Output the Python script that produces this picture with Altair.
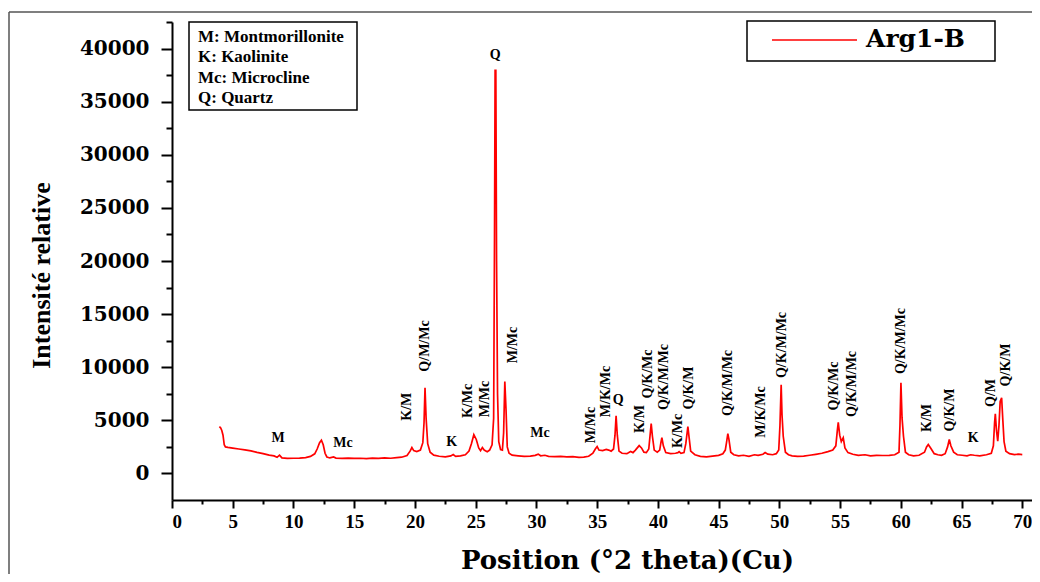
import altair as alt
import pandas as pd

# ---- XRD pattern ----
two_theta = [
    3.9, 4.0, 4.1, 4.2, 4.3, 4.4, 4.6, 5.0, 5.5, 6.0,
    6.5, 7.0, 7.5, 8.0, 8.4, 8.65, 8.85, 9.05, 9.5, 10.0,
    10.5, 11.0, 11.4, 11.75, 11.95, 12.15, 12.3, 12.45, 12.6, 12.75,
    13.0, 13.3, 13.5, 14.0, 14.5, 15.0, 15.5, 16.0, 16.5, 17.0,
    17.5, 18.0, 18.5, 18.9, 19.35, 19.6, 19.75, 19.9, 20.15, 20.45,
    20.65, 20.75, 20.83, 20.92, 21.05, 21.25, 21.55, 22.0, 22.5, 22.95,
    23.15, 23.35, 23.75, 24.15, 24.45, 24.65, 24.85, 25.05, 25.25, 25.4,
    25.55, 25.7, 25.95, 26.15, 26.35, 26.48, 26.55, 26.6, 26.66, 26.72,
    26.8, 26.9, 27.05, 27.2, 27.3, 27.4, 27.5, 27.6, 27.75, 28.0,
    28.5, 29.0, 29.5, 29.9, 30.15, 30.35, 30.7, 31.0, 31.5, 32.0,
    32.5, 33.0, 33.5, 33.9, 34.3, 34.65, 34.85, 35.0, 35.15, 35.45,
    35.75, 35.95, 36.15, 36.35, 36.47, 36.56, 36.66, 36.8, 37.05, 37.45,
    37.75, 37.95, 38.15, 38.46, 38.65, 38.85, 39.05, 39.25, 39.35, 39.45,
    39.55, 39.7, 39.95, 40.15, 40.25, 40.33, 40.45, 40.65, 41.05, 41.45,
    41.65, 41.75, 41.9, 42.15, 42.3, 42.47, 42.57, 42.7, 43.05, 43.5,
    44.0, 44.5, 45.0, 45.35, 45.55, 45.65, 45.76, 45.85, 46.0, 46.25,
    46.65, 47.05, 47.5, 47.95, 48.25, 48.65, 48.83, 49.05, 49.45, 49.75,
    49.95, 50.05, 50.15, 50.22, 50.32, 50.5, 50.75, 51.05, 51.5, 52.0,
    52.5, 53.0, 53.5, 54.0, 54.4, 54.65, 54.77, 54.85, 54.97, 55.1,
    55.26, 55.4, 55.65, 56.05, 56.5, 57.05, 57.5, 58.0, 58.5, 59.05,
    59.5, 59.85, 59.93, 60.01, 60.1, 60.22, 60.38, 60.65, 61.05, 61.5,
    61.95, 62.12, 62.26, 62.48, 62.75, 63.05, 63.35, 63.65, 63.85, 63.99,
    64.12, 64.35, 64.65, 65.05, 65.45, 65.75, 66.05, 66.5, 67.05, 67.45,
    67.62, 67.72, 67.78, 67.88, 67.98, 68.08, 68.18, 68.3, 68.4, 68.5,
    68.65, 68.95, 69.35, 69.7, 70.0,
]
intensity = [
    4400, 4300, 4050, 3600, 2700, 2500, 2450, 2380, 2300, 2220,
    2120, 1980, 1860, 1720, 1650, 1520, 1720, 1460, 1420, 1430,
    1440, 1490, 1600, 1850, 2300, 2900, 3120, 2700, 1900, 1550,
    1460, 1560, 1450, 1420, 1440, 1410, 1430, 1400, 1440, 1420,
    1460, 1430, 1490, 1530, 1680, 2100, 2440, 2150, 2060, 2200,
    2900, 4800, 8060, 5200, 2800, 2000, 1720, 1620, 1560, 1650,
    1780, 1600, 1650, 1760, 2100, 2800, 3650, 3200, 2400, 2150,
    2440, 2200, 2050, 2200, 2700, 5200, 22000, 37950, 37950, 20000,
    7500, 3000, 2250, 2200, 3800, 8650, 6000, 2500, 1900, 1720,
    1660, 1610, 1630, 1700, 1820, 1660, 1710, 1610, 1590, 1610,
    1560, 1590, 1510, 1530, 1620, 1900, 2300, 2530, 2200, 2150,
    2260, 2200, 2100, 2300, 3600, 5430, 3600, 2100, 1900, 1860,
    2060, 1960, 2200, 2620, 2400, 2000, 1960, 2300, 3500, 4690,
    3500, 2200, 2000, 2200, 2900, 3370, 2600, 1960, 1860, 1900,
    1960, 2060, 1900, 1960, 2800, 4400, 3400, 2100, 1760, 1610,
    1560, 1630, 1700, 1850, 2200, 2900, 3750, 3200, 2000, 1760,
    1660, 1710, 1610, 1760, 1700, 1810, 1970, 1810, 1760, 1860,
    2200, 4500, 8340, 5530, 3500, 2000, 1760, 1660, 1610, 1630,
    1710, 1800, 1900, 2050, 2200, 2600, 4000, 4810, 3600, 3000,
    3370, 2400, 1960, 1810, 1710, 1760, 1660, 1710, 1690, 1710,
    1760, 2000, 4500, 8530, 5250, 3500, 2000, 1760, 1660, 1710,
    2000, 2500, 2720, 2350, 1860, 1760, 1710, 1860, 2500, 3190,
    2600, 2000, 1760, 1710, 1660, 1760, 1710, 1660, 1760, 1900,
    2600, 4800, 5620, 4000, 3030, 4500, 6780, 7120, 5000, 3000,
    2100, 1860, 1780, 1810, 1780,
]

# ---- peak annotations ----
peak_labels = ["M", "Mc", "K/M", "Q/M/Mc", "K", "K/Mc", "M/Mc", "Q", "M/Mc", "Mc",
               "M/Mc", "M/K/Mc", "Q", "K/M", "Q/K/Mc", "Q/K/M/Mc", "K/Mc", "Q/K/M",
               "Q/K/M/Mc", "M/K/Mc", "Q/K/M/Mc", "Q/K/Mc", "Q/K/M/Mc", "Q/K/M/Mc",
               "K/M", "Q/K/M", "K", "Q/M", "Q/K/M"]
label_theta = [8.73, 14.08, 19.33, 20.83, 23.03, 24.38, 25.75, 26.6, 28.08, 30.3,
               34.5, 35.72, 36.73, 38.55, 39.2, 40.49, 41.67, 42.58,
               45.79, 48.48, 50.23, 54.49, 56.0, 60.01,
               62.15, 64.07, 65.96, 67.45, 68.66]
label_intensity = [3340, 2870, 6280, 12000, 2990, 6820, 7010, 39393, 12093, 3810,
                   4562, 7716, 6913, 5126, 9363, 9080, 3997, 8045,
                   8516, 5785, 12093, 8233, 8422, 12469,
                   5221, 5974, 3340, 7574, 10210]
label_angle = [0, 0, 270, 270, 0, 270, 270, 0, 270, 0,
               270, 270, 0, 270, 270, 270, 270, 270,
               270, 270, 270, 270, 270, 270,
               270, 270, 0, 270, 270]

legend_lines = ["M: Montmorillonite", "K: Kaolinite", "Mc: Microcline", "Q: Quartz"]
series_name = "Arg1-B"

x_ticks = [i * 2.5 for i in range(29)]
y_ticks = [i * 2500 for i in range(18)]

df = pd.DataFrame({"theta": two_theta, "intensity": intensity})
lab = pd.DataFrame({"theta": label_theta, "intensity": label_intensity,
                    "label": peak_labels, "angle": label_angle})
one = pd.DataFrame({"k": [0]})

xscale = alt.Scale(domain=[0, 70.8], nice=False, zero=False)
yscale = alt.Scale(domain=[-2500, 42500], nice=False, zero=False)

x_axis = alt.Axis(
    values=x_ticks,
    labelExpr="datum.value % 5 === 0 ? datum.label : ''",
    format="d",
    labelOverlap=False,
    grid=False,
    domainColor="black", domainWidth=2,
    tickColor="black", tickWidth=2,
    tickSize={"condition": {"test": "datum.value % 5 === 0", "value": 8}, "value": 4},
    labelFont="Liberation Serif", labelFontWeight="bold", labelFontSize=19,
    labelColor="black", labelPadding=4,
    titleFont="DejaVu Serif", titleFontWeight="bold", titleFontSize=26,
    titleColor="black", titleX=455, titleY=68, titleAlign="center",
    titleBaseline="alphabetic",
)
y_axis = alt.Axis(
    values=y_ticks,
    labelExpr="datum.value % 5000 === 0 ? datum.label : ''",
    format="d",
    labelOverlap=False,
    grid=False,
    domainColor="black", domainWidth=2,
    tickColor="black", tickWidth=2,
    tickSize={"condition": {"test": "datum.value % 5000 === 0", "value": 11}, "value": 6},
    labelFont="DejaVu Serif", labelFontWeight="bold", labelFontSize=20,
    labelColor="black", labelPadding=12,
    titleFont="Liberation Serif", titleFontWeight="bold", titleFontSize=26,
    titleColor="black", titleAngle=270, titleX=-131, titleY=253,
    titleAlign="center", titleBaseline="middle",
)

x_enc = alt.X("theta:Q", scale=xscale, axis=x_axis, title="Position (°2 theta)(Cu)")
y_enc = alt.Y("intensity:Q", scale=yscale, axis=y_axis, title="Intensité relative")

line = alt.Chart(df).mark_line(color="#ff0000", strokeWidth=1.7).encode(x=x_enc, y=y_enc)

labels = alt.Chart(lab).mark_text(
    font="Liberation Serif", fontWeight="bold", fontSize=14, color="black",
    align="center", baseline="middle",
).encode(
    x=x_enc,
    y=y_enc,
    text="label:N",
    angle=alt.Angle("angle:Q", scale=None),
)

frame_top = alt.Chart(one).mark_rule(color="#555555", strokeWidth=1.5).encode(
    x=alt.value(-163), x2=alt.value(900), y=alt.value(-10))
frame_left = alt.Chart(one).mark_rule(color="#555555", strokeWidth=1.5).encode(
    x=alt.value(-163), y=alt.value(-10), y2=alt.value(700))

box_left = alt.Chart(one).mark_rect(fill="white", stroke="black", strokeWidth=1.5).encode(
    x=alt.value(17), x2=alt.value(185), y=alt.value(0), y2=alt.value(88))

legend_texts = []
for i, t in enumerate(legend_lines):
    legend_texts.append(
        alt.Chart(one).mark_text(
            text=t, font="Liberation Serif", fontWeight="bold", fontSize=17,
            color="black", align="left", baseline="alphabetic",
        ).encode(x=alt.value(26), y=alt.value([20, 40, 61, 81][i]))
    )

box_right = alt.Chart(one).mark_rect(fill="white", stroke="black", strokeWidth=1.5).encode(
    x=alt.value(575), x2=alt.value(823), y=alt.value(-1), y2=alt.value(39))
legend_rule = alt.Chart(one).mark_rule(color="#ff0000", strokeWidth=1.5).encode(
    x=alt.value(600), x2=alt.value(685), y=alt.value(18))
legend_label = alt.Chart(one).mark_text(
    text=series_name, font="DejaVu Serif", fontWeight="bold", fontSize=25,
    color="black", align="left", baseline="alphabetic",
).encode(x=alt.value(694), y=alt.value(25))

chart = alt.layer(
    line, labels, frame_top, frame_left, box_left, *legend_texts,
    box_right, legend_rule, legend_label
).properties(
    width=860, height=478,
    padding={"left": 164, "top": 14, "right": 0, "bottom": 74},
    autosize=alt.AutoSizeParams(type="none"),
    background="white",
).configure_view(strokeWidth=0)

chart.save("out.html", embed_options={"renderer": "svg", "actions": False})
